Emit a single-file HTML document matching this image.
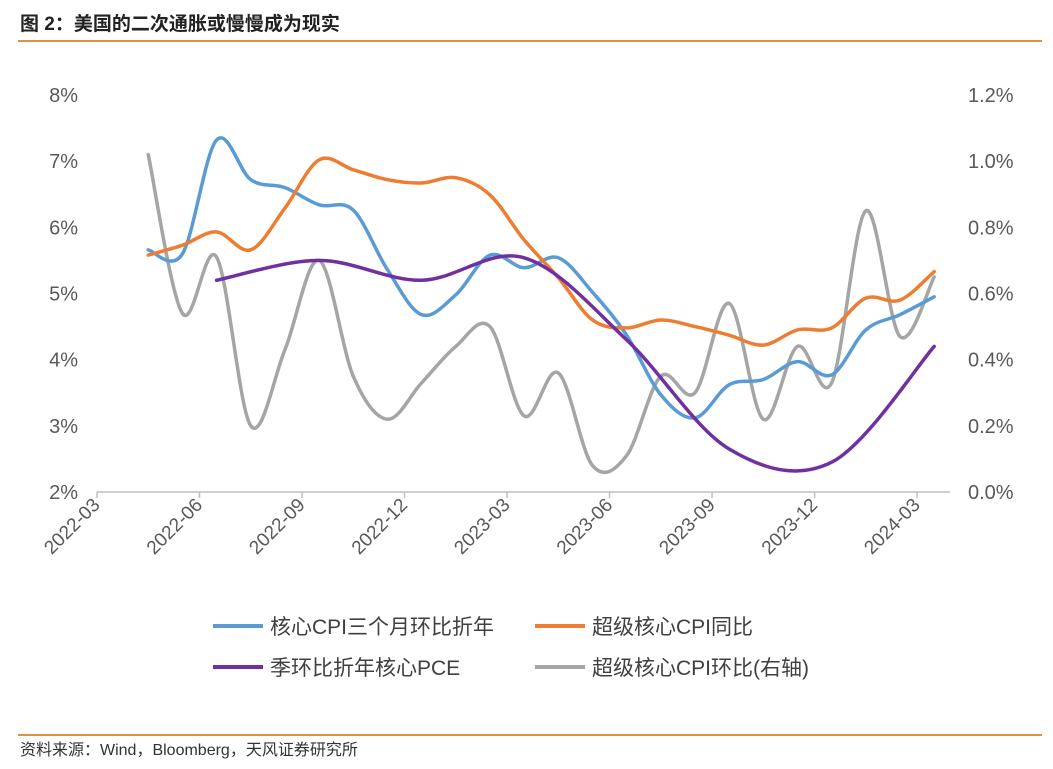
<!DOCTYPE html>
<html><head><meta charset="utf-8">
<style>
body{margin:0;background:#fff;font-family:"Liberation Sans","Noto Sans CJK SC",sans-serif;}
#wrap{position:relative;width:1053px;height:769px;overflow:hidden;background:#fff}
</style></head>
<body>
<div id="wrap">
<svg id="chart" width="1053" height="769">
<text x="20" y="30" font-size="19" font-weight="bold" fill="#222" font-family="Liberation Sans,Noto Sans CJK SC,sans-serif">图 2：美国的二次通胀或慢慢成为现实</text>
<line x1="18" y1="41" x2="1042" y2="41" stroke="#e0913f" stroke-width="2"/>
<line x1="18" y1="735" x2="1042" y2="735" stroke="#e0913f" stroke-width="2"/>
<text x="20" y="755" font-size="16" fill="#333" font-family="Liberation Sans,Noto Sans CJK SC,sans-serif">资料来源：Wind，Bloomberg，天风证券研究所</text>
<g id="axes"></g>
<g id="series"></g>
<g id="legend"></g>
</svg>
</div>
<script>
const xTickLabels=["2022-03","2022-06","2022-09","2022-12","2023-03","2023-06","2023-09","2023-12","2024-03"];
const leftTicks=[2,3,4,5,6,7,8];
const rightTicks=[0,0.2,0.4,0.6,0.8,1.0,1.2];
const coreCpi3m=[5.66,5.6,7.32,6.72,6.6,6.34,6.26,5.36,4.68,4.98,5.58,5.39,5.54,5.02,4.37,3.47,3.12,3.62,3.7,3.97,3.77,4.45,4.68,4.95];
const supercoreYoy=[5.58,5.73,5.93,5.66,6.29,7.02,6.87,6.72,6.67,6.75,6.49,5.81,5.24,4.6,4.48,4.6,4.5,4.37,4.22,4.45,4.48,4.93,4.9,5.33];
const pceMonths=[2,5,8,11,14,17,20,23];
const pceQoq=[5.2,5.5,5.2,5.54,4.3,2.65,2.45,4.2];
const supercoreMom=[1.02,0.54,0.71,0.20,0.43,0.70,0.35,0.22,0.33,0.44,0.50,0.23,0.36,0.08,0.11,0.35,0.30,0.57,0.22,0.44,0.33,0.85,0.47,0.65];

const NS="http://www.w3.org/2000/svg";
const x0=97, mw=34.17, yTop=95, yBot=492;
function xM(k){return x0+mw*(k+1.5);}           // k: months since 2022-04
function xTick(i){return x0+mw*3*i;}
function yL(v){return yBot-(v-2)/6*(yBot-yTop);}
function yR(v){return yBot-v/1.2*(yBot-yTop);}
function mk(tag,attrs,parent){const e=document.createElementNS(NS,tag);for(const k in attrs)e.setAttribute(k,attrs[k]);parent.appendChild(e);return e;}
const axes=document.getElementById('axes'),ser=document.getElementById('series'),leg=document.getElementById('legend');
const FF='Liberation Sans, Noto Sans CJK SC, sans-serif';

let ax=mk('line',{x1:x0,y1:yBot,x2:950,y2:yBot,stroke:'#bfbfbf','stroke-width':1.5},axes);


xTickLabels.forEach((t,i)=>{
  const x=xTick(i);
  let tk=mk('line',{x1:x,y1:yBot,x2:x,y2:yBot+6,stroke:'#bfbfbf','stroke-width':1.5},axes);
  
  
  let tx=mk('text',{x:x+4,y:yBot+14,'font-size':19,fill:'#595959','text-anchor':'end','font-family':FF,transform:`rotate(-45 ${x+4} ${yBot+14})`},axes);
  tx.textContent=t;
  
  
});
leftTicks.forEach(v=>{
  let t=mk('text',{x:78,y:yL(v)+7,'font-size':20,fill:'#595959','text-anchor':'end','font-family':FF},axes);
  t.textContent=v+'%';
  
  
});
rightTicks.forEach(v=>{
  let t=mk('text',{x:968,y:yR(v)+7,'font-size':20,fill:'#595959','text-anchor':'start','font-family':FF},axes);
  t.textContent=v.toFixed(1)+'%';
  
  
});

function smooth(pts){
  let d=`M${pts[0][0]},${pts[0][1]}`;
  for(let i=0;i<pts.length-1;i++){
    const p0=pts[Math.max(0,i-1)],p1=pts[i],p2=pts[i+1],p3=pts[Math.min(pts.length-1,i+2)];
    const t=6;
    d+=` C${p1[0]+(p2[0]-p0[0])/t},${p1[1]+(p2[1]-p0[1])/t} ${p2[0]-(p3[0]-p1[0])/t},${p2[1]-(p3[1]-p1[1])/t} ${p2[0]},${p2[1]}`;
  }
  return d;
}
function drawSeries(pts,color,name){
  let p=mk('path',{d:smooth(pts),fill:'none',stroke:color,'stroke-width':3.5,'stroke-linejoin':'round','stroke-linecap':'round'},ser);
  
  
}
drawSeries(supercoreMom.map((v,k)=>[xM(k),yR(v)]),'#a5a5a5','supercore-cpi-mom-line');
drawSeries(coreCpi3m.map((v,k)=>[xM(k),yL(v)]),'#5b9bd5','core-cpi-3m-annualized-line');
drawSeries(supercoreYoy.map((v,k)=>[xM(k),yL(v)]),'#ed7d31','supercore-cpi-yoy-line');
drawSeries(pceQoq.map((v,i)=>[xM(pceMonths[i]),yL(v)]),'#7030a0','core-pce-qoq-annualized-line');

const legItems=[['核心CPI三个月环比折年','#5b9bd5',213,626],['超级核心CPI同比','#ed7d31',535,626],['季环比折年核心PCE','#7030a0',213,667],['超级核心CPI环比(右轴)','#a5a5a5',535,667]];
legItems.forEach(it=>{
  let g=mk('g',{},leg);
  
  
  mk('line',{x1:it[2],y1:it[3],x2:it[2]+50,y2:it[3],stroke:it[1],'stroke-width':4},g);
  let t=mk('text',{x:it[2]+57,y:it[3]+8,'font-size':21,fill:'#404040','font-family':FF},g);
  t.textContent=it[0];
});
</script>
</body></html>
